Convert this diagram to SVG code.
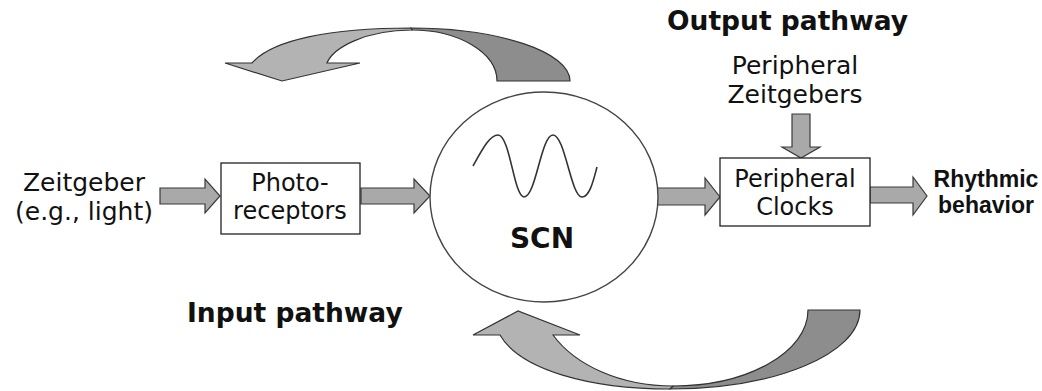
<svg xmlns="http://www.w3.org/2000/svg" width="1042" height="391" viewBox="0 0 1042 391">
<style>
.bg{fill:#ffffff}
.box{fill:#ffffff;stroke:#222222;stroke-width:1.3}
.scn{fill:#ffffff;stroke:#444444;stroke-width:1.4}
.arr{fill:#a9a9a9;stroke:#3a3a3a;stroke-width:1.2;stroke-linejoin:miter}
.lt{fill:#b3b3b3;stroke:#333333;stroke-width:1.2}
.dk{fill:#8d8d8d;stroke:#333333;stroke-width:1.2}
.wave{fill:none;stroke:#333333;stroke-width:1.6}
.t{font-family:"DejaVu Sans",Verdana,sans-serif;font-size:25px;fill:#111111;text-anchor:middle}
.tx{font-size:24px}
.tb{font-family:"DejaVu Sans",Verdana,sans-serif;font-size:26.5px;font-weight:bold;fill:#111111}
.ta{font-family:"Liberation Sans",Arial,sans-serif;font-size:23px;font-weight:bold;fill:#111111;text-anchor:middle}
</style>
<rect class="bg" x="0" y="0" width="1042" height="391"/>

<g id="connectors">
  <path class="arr" d="M160,188 L205,188 L205,179 L220,196 L205,213 L205,204 L160,204 Z"/>
  <path class="arr" d="M361,188 L414,188 L414,179 L430,196 L414,213 L414,204 L361,204 Z"/>
  <path class="arr" d="M657,188 L705,188 L705,178 L720,197 L705,215 L705,205 L657,205 Z"/>
  <path class="arr" d="M870,187 L913,187 L913,177 L927,196 L913,215 L913,203 L870,203 Z"/>
  <path class="arr" d="M792,114 L810,114 L810,147 L820,147 L801,158 L782,147 L792,147 Z"/>
  <g id="output-curve">
    <path class="dk" d="M411,28 C499,28 570,52 570,81 L497,81 C497,53 459,30 412,30 Z"/>
    <path class="lt" d="M252,63 C272,40 330,28 411,28 L412,30 C365,30 333,48 327,63 L360,63 L282,81 L225,63 Z"/>
  </g>
  <g id="input-curve">
    <path class="dk" d="M860,310 C860,354 775,389 670,389 L673,386 C748,386 808,352 808,310 Z"/>
    <path class="lt" d="M670,389 C590,389 520,370 500,335 L473,335 L518,311 L580,335 L553,335 C575,365 620,386 673,386 Z"/>
  </g>
</g>

<g id="zeitgeber">
  <text class="t" x="84" y="191">Zeitgeber</text>
  <text class="t" x="84" y="220">(e.g., light)</text>
</g>

<g id="photoreceptors">
  <rect class="box" x="221" y="163" width="139" height="71"/>
  <text class="t tx" x="290" y="191">Photo-</text>
  <text class="t tx" x="290" y="219">receptors</text>
</g>

<g id="scn">
  <ellipse class="scn" cx="544" cy="197" rx="114" ry="105"/>
  <path class="wave" d="M473,166 C483,148 490,135 498,135 C510,135 514,197 524,197 C536,197 541,135 553,135 C565,135 571,197 582,197 C590,197 594,178 597,167"/>
  <text class="tb" x="542" y="248" text-anchor="middle" style="font-size:28px">SCN</text>
</g>

<g id="peripheral-clocks">
  <rect class="box" x="720" y="158" width="150" height="68"/>
  <text class="t tx" x="795" y="187">Peripheral</text>
  <text class="t tx" x="795" y="215">Clocks</text>
</g>

<g id="peripheral-zeitgebers">
  <text class="t" x="795" y="74">Peripheral</text>
  <text class="t" x="795" y="103">Zeitgebers</text>
</g>

<g id="rhythmic-behavior">
  <text class="ta" x="986" y="187">Rhythmic</text>
  <text class="ta" x="986" y="213">behavior</text>
</g>

<g id="labels">
  <text class="tb" x="667" y="30">Output pathway</text>
  <text class="tb" x="187" y="322">Input pathway</text>
</g>
</svg>
